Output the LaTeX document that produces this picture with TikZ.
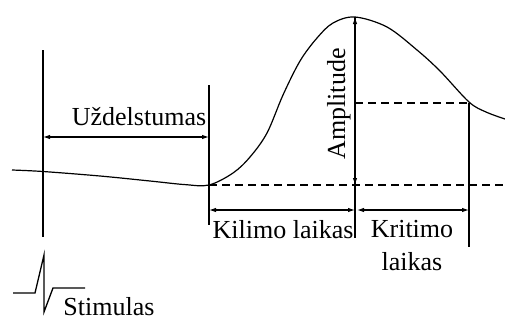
\documentclass[tikz,border=0pt]{standalone}
\usepackage{fontspec}
\setmainfont{Liberation Serif}
\usetikzlibrary{arrows.meta}
\begin{document}
\begin{tikzpicture}[x=1pt,y=-1pt,line width=1.2pt,
  dim/.style={line width=1.1pt,{Latex[length=7pt,width=4.5pt]}-{Latex[length=7pt,width=4.5pt]}},
  guide/.style={line width=1.5pt},
  dashline/.style={line width=1.1pt,dash pattern=on 8pt off 5pt},
  lbl/.style={font=\fontsize{26}{30}\selectfont,inner sep=0pt,anchor=base}]
\useasboundingbox (0,0) rectangle (505,322);
% reference coordinates
\coordinate (L1t) at (43,50);   \coordinate (L1b) at (43,237);
\coordinate (L2t) at (209,85);  \coordinate (L2b) at (209,225);
\coordinate (At)  at (355,17);  \coordinate (Ab)  at (355,238);
\coordinate (Rt)  at (469,103); \coordinate (Rb)  at (469,247);
\coordinate (D1a) at (355,103);
\coordinate (D2a) at (209,185); \coordinate (D2b) at (505,185);
\coordinate (Amb) at (355,185);
\coordinate (U1) at (43,137);   \coordinate (U2) at (209,137);
\coordinate (K1) at (209,210);  \coordinate (K2) at (355,210);
\coordinate (K3) at (357,210);  \coordinate (K4) at (469,210);
% guide lines
\draw[guide] (L1t) -- (L1b);
\draw[guide] (L2t) -- (L2b);
\draw[guide] (At) -- (Ab);
\draw[guide] (Rt) -- (Rb);
% dashed levels
\draw[dashline] (D1a) -- (Rt);
\draw[dashline] (D2a) -- (D2b);
% curve
\draw[line width=1.2pt] plot[smooth,tension=0.55] coordinates {
 (12,170) (43,171.5) (100,176) (150,181) (185,184.6) (209,185)
 (233,173) (250,157) (267,133) (283,95) (300,61) (317,38) (333,23) (355,17)
 (387,27) (417,50) (440,71) (469,102) (486,112) (505,119)};
% dimension arrows
\draw[dim] (U1) -- (U2);
\draw[dim] (K1) -- (K2);
\draw[dim] (K3) -- (K4);
\draw[dim] (At) -- (Amb);
% labels
\node[lbl] (uzd) at (139,125) {Uždelstumas};
\node[lbl] (kil) at (283,238) {Kilimo laikas};
\node[lbl] (kri1) at (412,237) {Kritimo};
\node[lbl] (kri2) at (412,270) {laikas};
\node[lbl,rotate=90] (amp) at (345,104) {Amplitude};
\node[lbl] (sti) at (109,315) {Stimulas};
% stimulus
\draw[line width=1.3pt] (13,293) -- (35,293) -- (44,255) -- (44,312) -- (53,288) -- (85,288);
\end{tikzpicture}
\end{document}
